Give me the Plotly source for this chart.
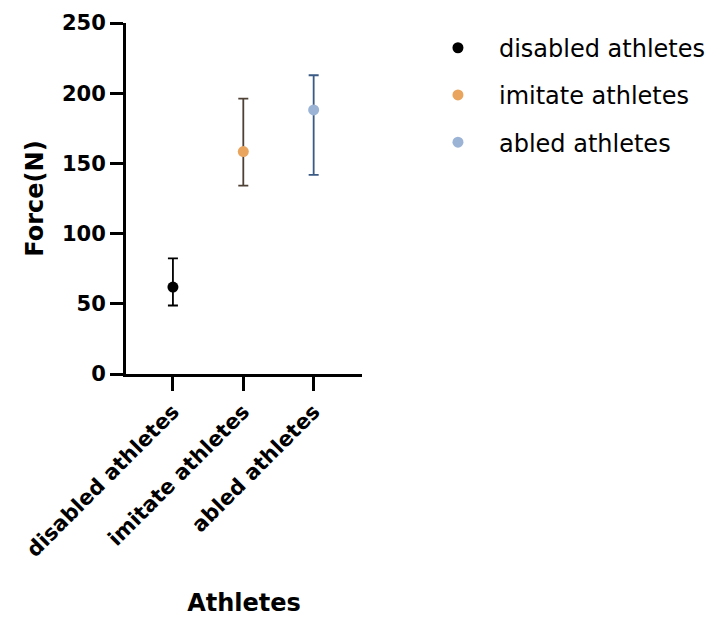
import plotly.graph_objects as go

categories = ["disabled athletes", "imitate athletes", "abled athletes"]
means = [61.9, 158.4, 188.1]
upper = [82.3, 196.2, 212.8]
lower = [48.8, 134.2, 141.8]
marker_colors = ["#000000", "#E9A55E", "#9BB4D6"]
error_colors = ["#000000", "#4E4136", "#3B5A84"]

fig = go.Figure()
for i, cat in enumerate(categories):
    fig.add_trace(go.Scatter(
        x=[cat], y=[means[i]], mode="markers", name=cat,
        legendgroup=cat,
        marker=dict(color=marker_colors[i], size=11),
        error_y=dict(type="data", symmetric=False,
                     array=[upper[i] - means[i]], arrayminus=[means[i] - lower[i]],
                     color=error_colors[i], thickness=1.8, width=5),
    ))

fig.update_layout(
    width=710, height=609,
    margin=dict(l=118, r=356, t=15, b=243),
    plot_bgcolor="white", paper_bgcolor="white",
    font=dict(family="DejaVu Sans", color="black"),
    showlegend=True,
    legend=dict(xref="container", yref="container", x=0.576, y=0.971,
                xanchor="left", yanchor="top",
                font=dict(family="DejaVu Sans", size=24),
                tracegroupgap=13, itemwidth=72),
    xaxis=dict(
        type="category", categoryorder="array", categoryarray=categories,
        range=[-0.667, 2.687], automargin=False,
        showline=True, linecolor="black", linewidth=3,
        ticks="outside", ticklen=14, tickwidth=3, tickcolor="black",
        tickangle=-45, showgrid=False, zeroline=False,
        tickfont=dict(family="DejaVu Sans", size=21, weight="bold"),
        title=dict(text="<b>Athletes</b>", font=dict(family="DejaVu Sans", size=24), standoff=35),
    ),
    yaxis=dict(
        range=[0, 250], tickvals=[0, 50, 100, 150, 200, 250], automargin=False,
        showline=True, linecolor="black", linewidth=3,
        ticks="outside", ticklen=13, tickwidth=3, tickcolor="black",
        showgrid=False, zeroline=False,
        tickfont=dict(family="DejaVu Sans", size=21, weight="bold"),
        title=dict(text="<b>Force(N)</b>", font=dict(family="DejaVu Sans", size=24), standoff=12),
    ),
)

fig.write_html("out.html")
